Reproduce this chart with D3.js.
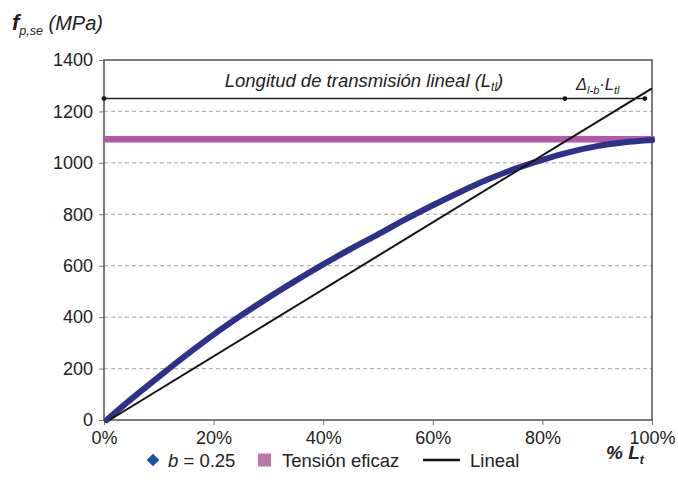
<!DOCTYPE html>
<html>
<head>
<meta charset="utf-8">
<script src="https://cdn.jsdelivr.net/npm/d3@7"></script>
<style>
  html, body { margin: 0; padding: 0; background: #fff; }
  svg { display: block; font-family: "Liberation Sans", Arial, Helvetica, sans-serif; }
</style>
</head>
<body>
<svg id="chart" width="678" height="491"></svg>
<script>
// Transmitted prestress along the transfer length (% of Lt)
const xTicks = [0, 20, 40, 60, 80, 100];
const xTickLabels = ["0%", "20%", "40%", "60%", "80%", "100%"];
const yTicks = [0, 200, 400, 600, 800, 1000, 1200, 1400];
const gridValues = [200, 400, 600, 800, 1000, 1200];

// b = 0.25 curve: position (% Lt) and stress (MPa)
const bPos    = [0.5, 5, 10, 15, 20, 25, 30, 35, 40, 45, 50, 55, 60, 65, 70, 75, 80, 85, 90, 95, 100];
const bStress = [0, 82, 168, 252, 332, 406, 476, 542, 605, 665, 722, 780, 835, 887, 935, 977, 1012, 1042, 1065, 1080, 1089];

// Effective stress (Tensión eficaz)
const effPos = [0, 100.5];
const effStress = [1092, 1092];

// Linear law
const linPos = [1, 100];
const linStress = [0, 1290];

// Transfer-length dimension line
const dimLevel = 1250;
const dimPos = [0, 84.1, 98.7];

const svg = d3.select("#chart");
const margin = { left: 104, right: 26, top: 60, bottom: 71 };
const W = 678, H = 491;

const x = d3.scaleLinear().domain([0, 100]).range([margin.left, W - margin.right]);
const y = d3.scaleLinear().domain([0, 1400]).range([H - margin.bottom, margin.top]);

const textColor = "#222";
const tickFont = 18;

// dashed grid
svg.append("g")
  .selectAll("line")
  .data(gridValues)
  .join("line")
  .attr("x1", x(0)).attr("x2", x(100))
  .attr("y1", d => y(d)).attr("y2", d => y(d))
  .attr("stroke", "#b3b3b3")
  .attr("stroke-width", 1.2)
  .attr("stroke-dasharray", "4,3");

// axes
const yAxis = d3.axisLeft(y).tickValues(yTicks).tickSize(5).tickPadding(6).tickFormat(d3.format("d"));
const gy = svg.append("g").attr("transform", `translate(${x(0)},0)`).call(yAxis);
gy.select(".domain").remove();
gy.selectAll(".tick line").attr("stroke", "#777").attr("stroke-width", 1);
gy.selectAll(".tick text").attr("fill", textColor).attr("font-size", tickFont)
  .attr("font-family", "Liberation Sans, Arial, sans-serif");

const xAxis = d3.axisBottom(x).tickValues(xTicks).tickSize(5).tickPadding(6)
  .tickFormat((d, i) => xTickLabels[i]);
const gx = svg.append("g").attr("transform", `translate(0,${y(0)})`).call(xAxis);
gx.select(".domain").remove();
gx.selectAll(".tick line").attr("stroke", "#777").attr("stroke-width", 1);
gx.selectAll(".tick text").attr("fill", textColor).attr("font-size", tickFont)
  .attr("font-family", "Liberation Sans, Arial, sans-serif");

// plot frame
svg.append("rect")
  .attr("x", x(0)).attr("y", y(1400))
  .attr("width", x(100) - x(0)).attr("height", y(0) - y(1400))
  .attr("fill", "none").attr("stroke", "#5a5a5a").attr("stroke-width", 1.6);

const line = d3.line().x(d => x(d[0])).y(d => y(d[1]));

// effective stress band
svg.append("path")
  .datum(d3.zip(effPos, effStress))
  .attr("d", line)
  .attr("fill", "none")
  .attr("stroke", "#b05aa8")
  .attr("stroke-width", 6.5);

// b = 0.25 curve
svg.append("path")
  .datum(d3.zip(bPos, bStress))
  .attr("d", d3.line().x(d => x(d[0])).y(d => y(d[1])).curve(d3.curveMonotoneX))
  .attr("fill", "none")
  .attr("stroke", "#2e3189")
  .attr("stroke-width", 6)
  .attr("stroke-linecap", "round");

// linear law
svg.append("path")
  .datum(d3.zip(linPos, linStress))
  .attr("d", line)
  .attr("fill", "none")
  .attr("stroke", "#111")
  .attr("stroke-width", 2);

// dimension line for the transfer length
svg.append("line")
  .attr("x1", x(dimPos[0])).attr("x2", x(dimPos[2]))
  .attr("y1", y(dimLevel)).attr("y2", y(dimLevel))
  .attr("stroke", "#222").attr("stroke-width", 1.6);
svg.append("g").selectAll("circle")
  .data(dimPos)
  .join("circle")
  .attr("cx", d => x(d)).attr("cy", y(dimLevel))
  .attr("r", 2.4).attr("fill", "#111");

// labels on the dimension line
const t1 = svg.append("text")
  .attr("x", 364).attr("y", 87)
  .attr("text-anchor", "middle")
  .attr("font-size", 18.5).attr("font-style", "italic").attr("fill", textColor);
t1.append("tspan").text("Longitud de transmisión lineal (L");
t1.append("tspan").attr("font-size", 12).attr("dy", 4).text("tl");
t1.append("tspan").attr("dy", -4).text(")");

const t2 = svg.append("text")
  .attr("x", 576).attr("y", 90)
  .attr("font-size", 16.5).attr("font-style", "italic").attr("fill", textColor);
t2.append("tspan").text("Δ");
t2.append("tspan").attr("font-size", 11).attr("dy", 4).text("l-b");
t2.append("tspan").attr("dy", -4).text("·L");
t2.append("tspan").attr("font-size", 11).attr("dy", 4).text("tl");

// y-axis title
const yt = svg.append("text")
  .attr("x", 12).attr("y", 30)
  .attr("font-size", 20).attr("font-style", "italic").attr("fill", textColor);
yt.append("tspan").attr("font-weight", "bold").attr("font-size", 22).text("f");
yt.append("tspan").attr("font-size", 12.5).attr("dy", 5).text("p,se");
yt.append("tspan").attr("dy", -5).text(" (MPa)");

// x-axis title
const xt = svg.append("text")
  .attr("x", 606).attr("y", 459)
  .attr("font-size", 19).attr("font-style", "italic").attr("font-weight", "bold").attr("fill", textColor);
xt.append("tspan").text("% L");
xt.append("tspan").attr("font-size", 12).attr("dy", 5).text("t");

// legend
const legY = 460;
const legFont = 18.5;
const leg = svg.append("g");
leg.append("path")
  .attr("d", d3.symbol().type(d3.symbolSquare).size(80))
  .attr("transform", `translate(153,${legY}) rotate(45)`)
  .attr("fill", "#1f4f9f");
const l1 = leg.append("text").attr("x", 168).attr("y", legY + 6.5)
  .attr("font-size", legFont).attr("fill", textColor);
l1.append("tspan").attr("font-style", "italic").text("b");
l1.append("tspan").text(" = 0.25");

leg.append("rect").attr("x", 258).attr("y", legY - 6.5).attr("width", 13).attr("height", 13)
  .attr("fill", "#b977ae");
leg.append("text").attr("x", 282).attr("y", legY + 6.5)
  .attr("font-size", legFont).attr("fill", textColor).text("Tensión eficaz");

leg.append("line").attr("x1", 423).attr("x2", 460).attr("y1", legY).attr("y2", legY)
  .attr("stroke", "#111").attr("stroke-width", 2.4);
leg.append("text").attr("x", 470).attr("y", legY + 6.5)
  .attr("font-size", legFont).attr("fill", textColor).text("Lineal");
</script>
</body>
</html>
